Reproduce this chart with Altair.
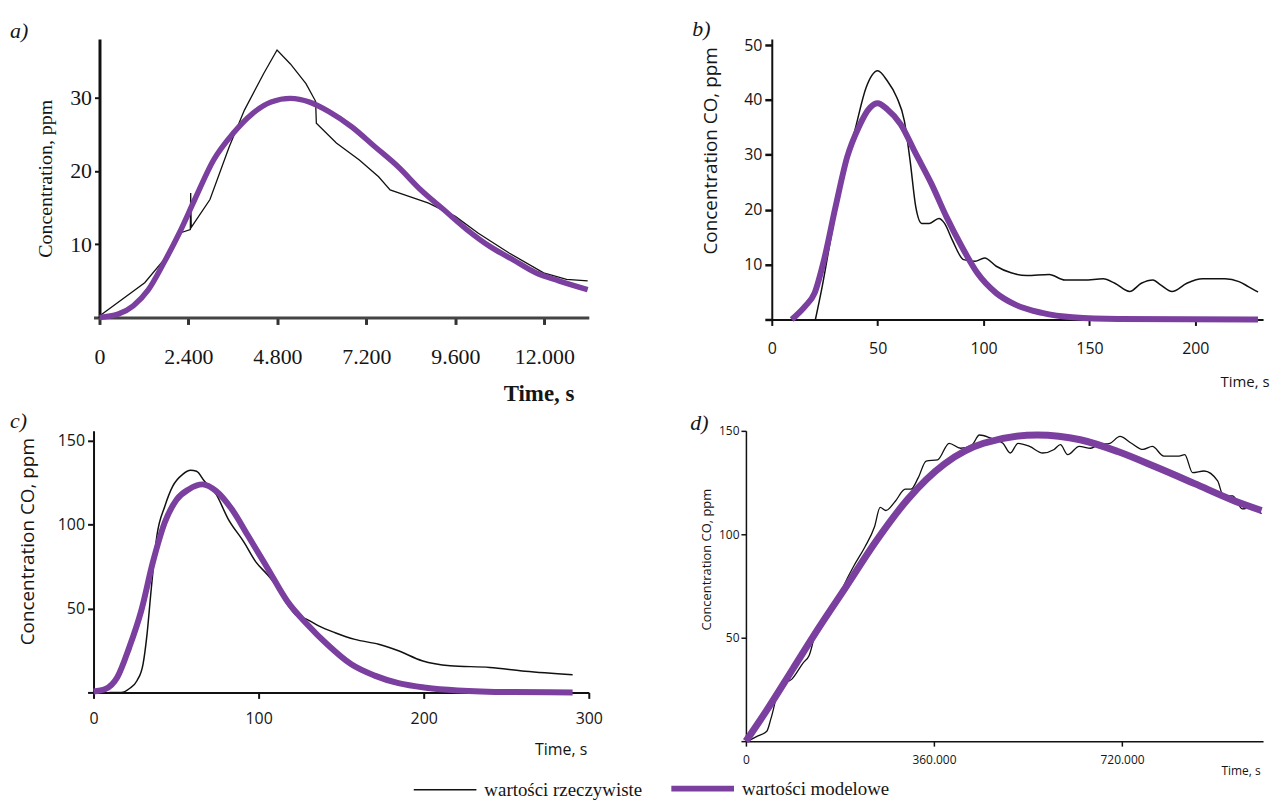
import altair as alt
import pandas as pd

SERIES = ["wartości rzeczywiste", "wartości modelowe"]
COLORS = ["#111111", "#7b3f9f"]

# ---- panel a (time in s) ----
A_REAL_T = [0, 1220, 1740, 2150, 2450, 2460, 2475, 2980, 3500, 3910, 4430, 4790, 5150, 5570, 5830, 5850,
            6390, 7010, 7530, 7840, 8250, 8880, 9600, 10220, 11050, 11980, 12600, 13170]
A_REAL_C = [0.2, 4.75, 7.9, 11.5, 12.0, 17.0, 12.3, 16.1, 23.3, 28.3, 33.3, 36.5, 34.6, 31.9, 29.5, 26.5,
            23.8, 21.5, 19.2, 17.4, 16.7, 15.6, 13.8, 11.5, 8.8, 6.1, 5.2, 5.0]
A_MOD_T = [0, 500, 910, 1320, 1740, 2150, 2570, 3080, 3600, 4120, 4630, 5150, 5670, 6190, 6810, 7430,
           8050, 8670, 9290, 9910, 10530, 11150, 11770, 12390, 13170]
A_MOD_C = [0, 0.45, 1.6, 3.8, 7.5, 11.5, 16.1, 21.5, 25.1, 27.8, 29.4, 29.9, 29.4, 28.1, 26.0, 23.3,
           20.6, 17.4, 14.7, 12.0, 9.7, 7.9, 6.1, 5.0, 3.8]

# ---- panel b ----
B_REAL_T = [20.6, 23.8, 28.3, 33.8, 39.2, 44.6, 50, 54.5, 59, 62.6, 65.3, 68, 70.8, 74.4, 78.9, 81.6,
            85.2, 90.6, 96, 100.5, 106, 113, 120.4, 131, 138.4, 147.5, 156.5, 162, 169, 174.5, 180,
            183.6, 189, 196, 203.4, 214, 220.6, 225, 229.6]
B_REAL_C = [0, 6, 15.7, 26.6, 34.4, 42.3, 45.3, 43.5, 40.5, 36.2, 29, 20.5, 17.5, 17.5, 18.4, 17.5,
            14.5, 10.9, 10.6, 11.2, 9.7, 8.5, 8.0, 8.2, 7.2, 7.2, 7.4, 6.6, 5.1, 6.6, 7.2,
            6.3, 5.1, 6.6, 7.4, 7.4, 6.9, 6.0, 5.0]
B_MOD_T = [9.4, 15.7, 20.2, 24.7, 30.1, 35.6, 41, 46.4, 50, 54.5, 60.8, 68, 75.3, 82.5, 89.7, 97,
           106, 115, 127.6, 142, 163.7, 229.6]
B_MOD_C = [0, 2.4, 4.8, 10.9, 20.5, 29.6, 35, 38.6, 39.4, 38.3, 35.6, 30.2, 24.8, 18.7, 13.3, 8.5,
           4.8, 2.7, 1.2, 0.4, 0.1, 0]

# ---- panel c ----
C_REAL_T = [9.6, 16.8, 21.6, 26.4, 30, 32.4, 34.8, 38.4, 43.2, 48, 54, 58.8, 62.4, 67.1, 74.3, 81.5,
            91.1, 98.3, 105.5, 110.3, 117.5, 122.3, 129.5, 136.7, 146.3, 158.3, 172.7, 184.7, 199,
            216, 240, 261.4, 290.2]
C_REAL_C = [0, 0, 2.2, 7.1, 16.9, 34.6, 60, 93.5, 111, 123, 130, 132.4, 131.8, 126, 118, 103.5,
            89.6, 77.8, 70, 64, 52.3, 46.4, 43.4, 39.5, 35.6, 31.6, 28.7, 24.8, 18.9,
            15.9, 14.9, 12.6, 10.6]
C_MOD_T = [0, 7.2, 14.4, 21.6, 28.8, 36, 43.2, 50.4, 57.6, 66, 74.3, 83.9, 93.5, 105.5, 117.5, 129.5,
           141.5, 155.9, 170.3, 184.7, 201.4, 220.6, 254, 290.2]
C_MOD_C = [0.5, 2, 9, 26.7, 48.3, 77.8, 101.4, 115, 121, 124, 120, 109, 93.5, 73.9, 54.2, 40.5,
           28.7, 16.9, 10, 5.5, 2.8, 1.2, 0.2, 0]

# ---- panel d (time in s) ----
D_REAL_T = [4000, 22000, 40000, 48000, 66000, 88000, 110000, 121000, 132000, 154000, 165000, 176000,
            187000, 206000, 228000, 246000, 257000, 268000, 286000, 305000, 316000, 330000, 345000,
            367000, 389000, 411000, 433000, 447000, 469000, 492000, 506000, 521000, 543000, 568000,
            590000, 602000, 616000, 638000, 660000, 675000, 697000, 716000, 738000, 760000, 778000,
            800000, 829000, 840000, 855000, 877000, 903000, 914000, 932000, 950000, 969000, 987000]
D_REAL_C = [0, 2.4, 4.8, 11, 27, 30, 38, 41.4, 51, 59, 65.3, 66.9,
            74.8, 84.4, 94, 103.5, 113, 111.5, 116, 121.8, 121.8, 127.4, 135.4,
            136, 144, 141.6, 143.3, 148, 146.5, 144, 139.3, 144, 142.5, 139.3,
            141, 143.3, 138.5, 142.5, 141.6, 143.3, 144, 147.3, 144, 141, 142.5,
            137.8, 137.8, 138.5, 129.8, 130.6, 125.8, 118.6, 118.6, 112.3, 113.1, 109.9]
D_MOD_T = [0, 40000, 90000, 140000, 190000, 250000, 310000, 380000, 455000, 558000, 640000, 712000,
           785000, 859000, 932000, 987000]
D_MOD_C = [0, 15, 35, 55, 74, 97, 117, 134, 144, 148, 145.7, 140, 132.5, 124.5, 116.5, 111.5]

SERIF = "Liberation Serif"
SANS = "Open Sans"
TXT = "#151515"


def panel_title(text, dx, offset):
    return alt.TitleParams(text, anchor="start", frame="group", dx=dx, offset=offset, font=SERIF,
                           fontStyle="italic", fontWeight="normal", fontSize=22, color=TXT)


def make_panel(real_t, real_c, mod_t, mod_c, x_dom, y_dom, w, h, xaxis, yaxis, title,
               widths, legend=None, real_interp="monotone"):
    real = pd.DataFrame({"t": real_t, "c": real_c, "s": SERIES[0]})
    mod = pd.DataFrame({"t": mod_t, "c": mod_c, "s": SERIES[1]})
    x = alt.X("t:Q", scale=alt.Scale(domain=x_dom, nice=False, zero=False), axis=xaxis)
    y = alt.Y("c:Q", scale=alt.Scale(domain=y_dom, nice=False), axis=yaxis)
    col = alt.Color("s:N", scale=alt.Scale(domain=SERIES, range=COLORS), legend=legend)
    sw = alt.StrokeWidth("s:N", scale=alt.Scale(type="point", domain=SERIES, range=widths, padding=0),
                         legend=legend)
    l1 = alt.Chart(real).mark_line(interpolate=real_interp).encode(x=x, y=y, color=col, strokeWidth=sw)
    l2 = alt.Chart(mod).mark_line(interpolate="monotone").encode(x=x, y=y, color=col, strokeWidth=sw)
    return alt.layer(l1, l2).properties(width=w, height=h, title=title)


hide0 = "datum.value == 0 ? '' : datum.label"
thou = "datum.value == 0 ? '0' : format(datum.value/1000, '.3f')"

# panel a (x axis line starts a little left of the y axis)
ax_a_x = alt.Axis(values=[0, 2400, 4800, 7200, 9600, 12000], labelExpr=thou, title="Time, s",
                  labelFont=SERIF, labelFontSize=22, labelColor=TXT, labelPadding=22, labelFlush=False,
                  labelOverlap=False, tickSize=7, tickWidth=3, tickColor="#333", domainColor="#444",
                  domainWidth=3, grid=False, titleFont=SERIF, titleFontSize=23, titleFontWeight="bold",
                  titleColor=TXT, titleX=483, titleY=76, titleAlign="right", titleBaseline="middle")
ax_a_y = alt.Axis(values=[10, 20, 30], title="Concentration, ppm", offset=-6, labelFont=SERIF,
                  labelFontSize=22, labelColor=TXT, labelPadding=3, tickSize=5, tickWidth=2,
                  tickColor="#111", domainColor="#111", domainWidth=3, grid=False, titleFont=SERIF,
                  titleFontSize=20, titleFontWeight="normal", titleColor=TXT, titlePadding=14)
pa = make_panel(A_REAL_T, A_REAL_C, A_MOD_T, A_MOD_C, [-161, 13200], [0, 38], 498, 280, ax_a_x, ax_a_y,
                panel_title("a)", -84, -4), [1.3, 5.5], real_interp="linear")

# panel b
ax_b_x = alt.Axis(values=[0, 50, 100, 150, 200], title="Time, s", labelFont=SANS, labelFontSize=16,
                  labelColor=TXT, labelPadding=15, labelFlush=False, tickSize=6, tickWidth=2,
                  tickColor="#111", domainColor="#111", domainWidth=2, grid=False, titleFont=SANS,
                  titleFontSize=15, titleFontWeight="normal", titleColor=TXT, titleX=500, titleY=62,
                  titleAlign="right", titleBaseline="middle")
ax_b_y = alt.Axis(values=[0, 10, 20, 30, 40, 50], labelExpr=hide0, title="Concentration CO, ppm",
                  labelFont=SANS, labelFontSize=16, labelColor=TXT, labelPadding=3, tickSize=7,
                  tickWidth=2.5, tickColor="#111", domainColor="#111", domainWidth=2, grid=False,
                  titleFont=SANS, titleFontSize=19, titleFontWeight="normal", titleColor=TXT,
                  titleX=-62, titleY=112, titleAlign="center", titleBaseline="middle", titleAngle=270)
pb = make_panel(B_REAL_T, B_REAL_C, B_MOD_T, B_MOD_C, [0, 232], [0, 51.1], 494, 282, ax_b_x, ax_b_y,
                panel_title("b)", -80, -4), [1.5, 6])

# panel c
ax_c_x = alt.Axis(values=[0, 100, 200, 300], title="Time, s", labelFont=SANS, labelFontSize=16,
                  labelColor=TXT, labelPadding=12, labelFlush=False, tickSize=6, tickWidth=2,
                  tickColor="#111", domainColor="#111", domainWidth=2, grid=False, titleFont=SANS,
                  titleFontSize=16, titleFontWeight="normal", titleColor=TXT, titleX=496, titleY=57,
                  titleAlign="right", titleBaseline="middle")
ax_c_y = alt.Axis(values=[0, 50, 100, 150], labelExpr=hide0, title="Concentration CO, ppm",
                  labelFont=SANS, labelFontSize=16, labelColor=TXT, labelPadding=3, tickSize=6,
                  tickWidth=2, tickColor="#111", domainColor="#111", domainWidth=2, grid=False,
                  titleFont=SANS, titleFontSize=19, titleFontWeight="normal", titleColor=TXT,
                  titleX=-66, titleY=111, titleAlign="center", titleBaseline="middle", titleAngle=270)
legend = alt.Legend(orient="none", legendX=321, legendY=350, direction="horizontal", title=None,
                    symbolType="M-6.3,0H6.3", symbolSize=100, symbolOffset=23, labelFont=SERIF,
                    labelFontSize=19, labelColor=TXT, columnPadding=17, labelOffset=30)
pc = make_panel(C_REAL_T, C_REAL_C, C_MOD_T, C_MOD_C, [0, 300], [0, 155.9], 498, 263, ax_c_x, ax_c_y,
                panel_title("c)", -84, -2), [1.5, 6], legend=legend)

# panel d
ax_d_x = alt.Axis(values=[0, 360000, 720000], labelExpr=thou, title="Time, s", labelFont=SANS,
                  labelFontSize=12, labelColor=TXT, labelPadding=8, labelFlush=False, tickSize=5,
                  tickWidth=1.5, tickColor="#111", domainColor="#111", domainWidth=1.5, grid=False,
                  titleFont=SANS, titleFontSize=12, titleFontWeight="normal", titleColor=TXT,
                  titleX=517, titleY=30, titleAlign="right", titleBaseline="middle")
ax_d_y = alt.Axis(values=[0, 50, 100, 150], labelExpr=hide0, title="Concentration CO, ppm",
                  labelFont=SANS, labelFontSize=12, labelColor=TXT, labelPadding=2, tickSize=5,
                  tickWidth=1.5, tickColor="#111", domainColor="#111", domainWidth=1.5, grid=False,
                  titleFont=SANS, titleFontSize=13, titleFontWeight="normal", titleColor=TXT,
                  titleX=-40, titleY=129, titleAlign="center", titleBaseline="middle", titleAngle=270)
pd_ = make_panel(D_REAL_T, D_REAL_C, D_MOD_T, D_MOD_C, [0, 990000], [0, 150], 520, 312, ax_d_x, ax_d_y,
                 panel_title("d)", -56, -14), [1.3, 7])

res = dict(x="independent", y="independent", color="independent", strokeWidth="independent")
row1 = alt.hconcat(pa, pb, spacing=184, bounds="flush").resolve_scale(**res)
row2 = alt.hconcat(pc, pd_, spacing=158, bounds="flush").resolve_scale(**res)
chart = (
    alt.vconcat(row1, row2, spacing=5, bounds="full")
    .resolve_scale(**res)
    .properties(padding={"left": 2, "top": 8, "right": 0, "bottom": 0}, background="white")
    .configure_view(stroke=None)
)

chart.save("out.html", embed_options={"renderer": "svg", "actions": False})
